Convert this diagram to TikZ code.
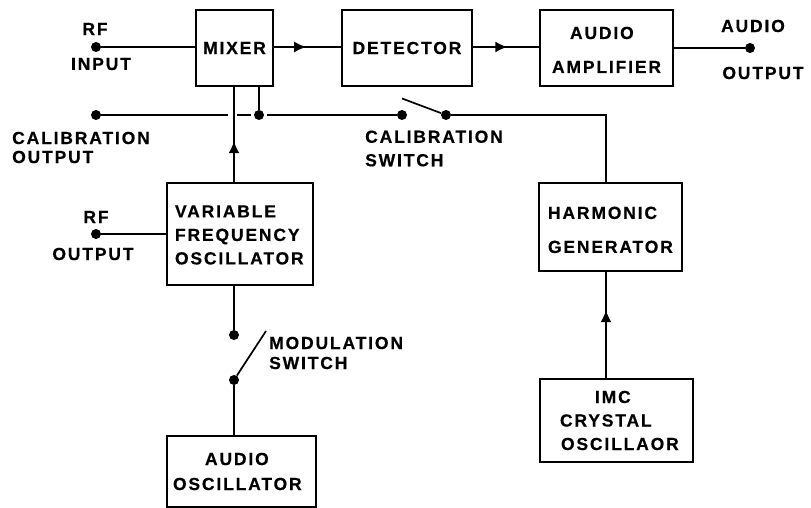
\documentclass[tikz,border=0pt]{standalone}
\usepackage{fontspec}
\setmainfont[LetterSpace=10.5,BoldFeatures={FakeBold=0.5}]{Liberation Sans}
\usetikzlibrary{arrows.meta,decorations.markings}
\tikzset{
  block/.style={draw, line width=1.9pt, inner sep=0pt, align=left},
  wire/.style={line width=1.7pt},
  dot/.style={circle, fill, inner sep=0pt, minimum size=10pt},
  lbl/.style={align=left, inner sep=0pt},
  arrowat/.style={decoration={markings, mark=at position #1 with {\arrow{Latex[length=12pt,width=11pt]}}}, postaction=decorate},
}
\begin{document}
\begin{tikzpicture}[x=1pt, y=-1pt, font=\fontsize{17.5}{23.5}\bfseries\selectfont]
\useasboundingbox (0,0) rectangle (811,508);
% Blocks {{{
\node[block, minimum width=77pt, minimum height=76pt, align=center] (mixer) at (234.5,48) {MIXER};
\node[block, minimum width=130pt, minimum height=76pt, align=center] (detector) at (407,48) {DETECTOR};
\node[block, text width=133pt, minimum height=76pt] (amplifier) at (606.5,48) {\hspace*{30pt}\rule{0pt}{16pt}AUDIO\\[10.5pt]\hspace*{12pt}AMPLIFIER};
\node[block, text width=146pt, minimum height=102pt] (vfo) at (240,234) {\hspace*{8pt}\rule{0pt}{14pt}VARIABLE\\\hspace*{8pt}FREQUENCY\\\hspace*{8pt}OSCILLATOR};
\node[block, text width=143pt, minimum height=88pt] (harmonic) at (610.5,227) {\hspace*{9pt}\rule{0pt}{18pt}HARMONIC\\[10.5pt]\hspace*{9pt}GENERATOR};
\node[block, text width=153pt, minimum height=83pt] (crystal) at (616.5,420.5) {\hspace*{55pt}IMC\\\hspace*{20pt}CRYSTAL\\\hspace*{21pt}OSCILLAOR};
\node[block, text width=149pt, minimum height=71pt] (audiosc) at (241.5,471.5) {\hspace*{38pt}AUDIO\\[1.5pt]\hspace*{6pt}OSCILLATOR};
% }}}
% Terminals {{{
\node[dot] (rfin) at (96,47) {};
\node[dot] (audout) at (750,48) {};
\node[dot] (calout) at (96,115) {};
\node[dot] (caljoin) at (259,115) {};
\node[dot] (calcontact) at (402,115) {};
\node[dot] (calpivot) at (446,115) {};
\node[dot] (rfout) at (96,234) {};
\node[dot] (modtop) at (234,335) {};
\node[dot] (modpivot) at (234,380) {};
\coordinate (calblade) at (402,98.5);
\coordinate (modblade) at (266,331);
\coordinate (gapleft) at (228,115);
\coordinate (gapstart) at (237,115);
\coordinate (gapend) at (251,115);
\coordinate (gapright) at (267,115);
\coordinate (harmtap) at (606,183);
% }}}
% Wires {{{
\draw[wire] (rfin) -- (mixer.west |- rfin);
\draw[wire, arrowat=0.48] (mixer.east |- rfin) -- (detector.west |- rfin);
\draw[wire, arrowat=0.52] (detector.east |- rfin) -- (amplifier.west |- rfin);
\draw[wire] (amplifier.east |- audout) -- (audout);
\draw[wire] (calout) -- (gapleft);
\draw[wire] (gapstart) -- (gapend);
\draw[wire] (gapright) -- (calcontact);
\draw[wire] (caljoin) -- (caljoin |- mixer.south);
\draw[wire, arrowat=0.43] (vfo.north -| modtop) -- (mixer.south -| modtop);
\draw[wire] (rfout) -- (vfo.west |- rfout);
\draw[wire] (vfo.south -| modtop) -- (modtop);
\draw[wire] (modpivot) -- (audiosc.north -| modpivot);
\draw[wire] (modpivot) -- (modblade);
\draw[wire] (calpivot) -- (calblade);
\draw[wire] (calpivot) -| (harmtap);
\draw[wire, arrowat=0.64] (crystal.north -| harmtap) -- (harmonic.south -| harmtap);
% }}}
% Labels {{{
\node[lbl] (lrf) at (95,29) {RF};
\node[lbl] (linput) at (101,64) {INPUT};
\node[lbl, anchor=west] (lcalout) at (12,147.5) {CALIBRATION\\[-4.5pt]OUTPUT};
\node[lbl, anchor=west] (lcalsw) at (365,148.5) {CALIBRATION\\SWITCH};
\node[lbl] (lrfo) at (96,217) {RF};
\node[lbl] (loutput) at (93,254) {OUTPUT};
\node[lbl, anchor=west] (lmodsw) at (269,353) {MODULATION\\[-3.5pt]SWITCH};
\node[lbl] (laudio) at (753,26) {AUDIO};
\node[lbl] (laudout) at (763,73) {OUTPUT};
% }}}
\end{tikzpicture}
\end{document}
